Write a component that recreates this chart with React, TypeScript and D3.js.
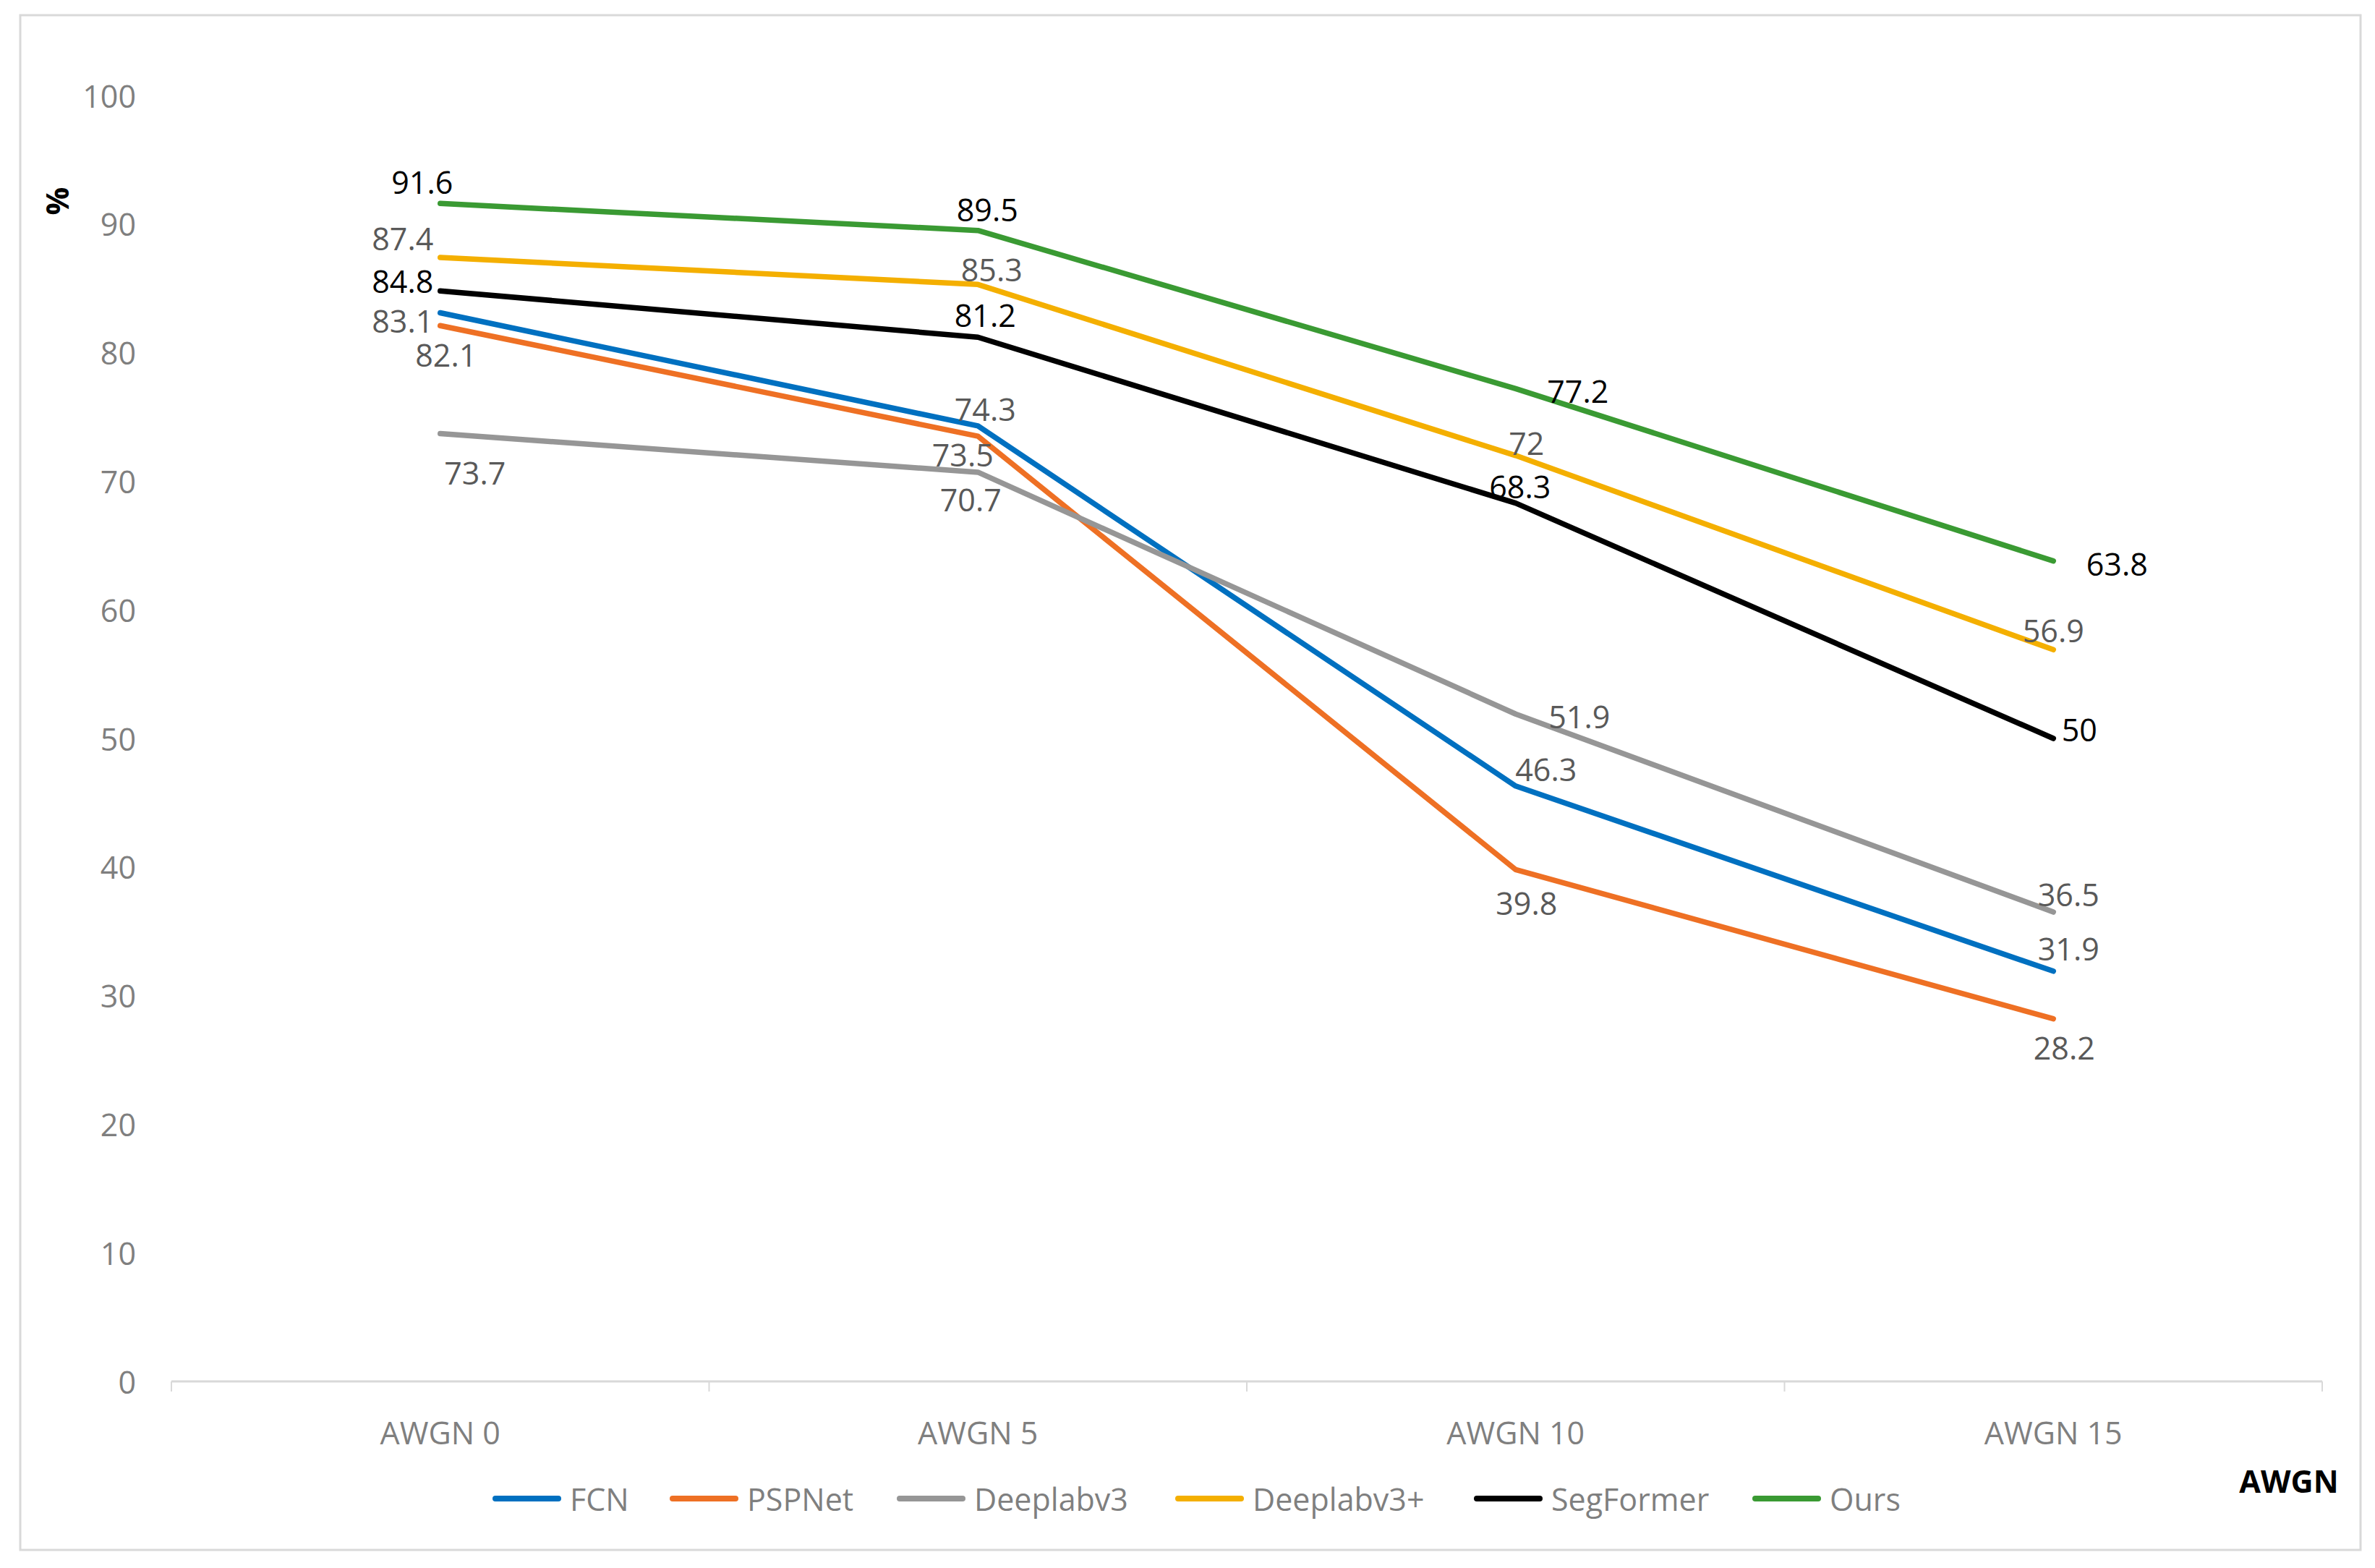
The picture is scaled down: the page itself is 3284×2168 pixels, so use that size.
import * as d3 from 'd3';

// values
const categories = ['AWGN 0', 'AWGN 5', 'AWGN 10', 'AWGN 15'];
const seriesNames = ['FCN', 'PSPNet', 'Deeplabv3', 'Deeplabv3+', 'SegFormer', 'Ours'];
const fcn = [83.1, 74.3, 46.3, 31.9];
const pspnet = [82.1, 73.5, 39.8, 28.2];
const deeplabv3 = [73.7, 70.7, 51.9, 36.5];
const deeplabv3plus = [87.4, 85.3, 72, 56.9];
const segformer = [84.8, 81.2, 68.3, 50];
const ours = [91.6, 89.5, 77.2, 63.8];
const yTicks = [0, 10, 20, 30, 40, 50, 60, 70, 80, 90, 100];

const seriesValues = [fcn, pspnet, deeplabv3, deeplabv3plus, segformer, ours];
const seriesColors = ['#0070c0', '#ee7024', '#969696', '#f4af00', '#000000', '#3a9a33'];
const labelColors = ['#595959', '#595959', '#595959', '#595959', '#000000', '#000000'];

// where each data label sits relative to its point (dx, dy)
const labelOffsets: [number, number][][] = [
  [[-52, 11], [10, -23], [42, -23], [21, -31]],
  [[8, 40], [-21, 25], [15, 46], [15, 40]],
  [[48, 54], [-10, 38], [88, 3], [21, -25]],
  [[-52, -27], [19, -21], [15, -17], [0, -27]],
  [[-52, -14], [10, -31], [6, -23], [36, -13]],
  [[-25, -30], [13, -29], [86, 3], [88, 4]],
];

// legend item left edges
const legendStarts = [681, 926, 1240, 1625, 2038, 2423];

const W = 3284;
const H = 2168;
const FONT = "'Open Sans', 'Noto Sans', sans-serif";
const FS = 43;

export default function App() {
  const plotLeft = 237;
  const plotRight = 3211;
  const plotTop = 132;
  const plotBottom = 1910;

  const x = d3.scaleBand<string>().domain(categories).range([plotLeft, plotRight]).padding(0);
  const cx = (c: string) => (x(c) ?? 0) + x.bandwidth() / 2;
  const y = d3.scaleLinear().domain([0, 100]).range([plotBottom, plotTop]);

  const line = d3.line<number>()
    .x((d, i) => cx(categories[i]))
    .y(d => y(d));

  const tickEdges = [...categories.map(c => x(c) ?? 0), plotRight];
  const legendY = 2072;

  return (
    <svg
      width={W}
      height={H}
      style={{ position: 'absolute', left: 0, top: 0, background: '#fff' }}
      fontFamily={FONT}
    >
      <rect x={0} y={0} width={W} height={H} fill="#fff" />
      <rect x={28} y={21} width={3236} height={2122} fill="none" stroke="#d9d9d9" strokeWidth={3} />

      {/* y tick labels */}
      {yTicks.map(t => (
        <text key={t} x={188} y={y(t)} textAnchor="end" dominantBaseline="central" fontSize={FS} fill="#7f7f7f">
          {t}
        </text>
      ))}
      <text
        transform={`translate(78,278) rotate(-90)`}
        textAnchor="middle"
        dominantBaseline="central"
        fontSize={FS}
        fontWeight="bold"
        fill="#000"
      >
        %
      </text>

      {/* x axis */}
      <line x1={plotLeft} x2={plotRight} y1={plotBottom} y2={plotBottom} stroke="#d9d9d9" strokeWidth={3} />
      {tickEdges.map((t, i) => (
        <line key={i} x1={t} x2={t} y1={plotBottom} y2={plotBottom + 14} stroke="#d9d9d9" strokeWidth={2} />
      ))}
      {categories.map(c => (
        <text key={c} x={cx(c)} y={1980} textAnchor="middle" dominantBaseline="central" fontSize={FS} fill="#7f7f7f">
          {c}
        </text>
      ))}
      <text x={3165} y={2047} textAnchor="middle" dominantBaseline="central" fontSize={FS} fontWeight="bold" fill="#000">
        AWGN
      </text>

      {/* series lines */}
      {seriesValues.map((vals, si) => (
        <path
          key={seriesNames[si]}
          d={line(vals) ?? ''}
          fill="none"
          stroke={seriesColors[si]}
          strokeWidth={7.5}
          strokeLinecap="round"
          strokeLinejoin="round"
        />
      ))}

      {/* data labels */}
      {seriesValues.map((vals, si) =>
        vals.map((v, i) => (
          <text
            key={`${si}-${i}`}
            x={cx(categories[i]) + labelOffsets[si][i][0]}
            y={y(v) + labelOffsets[si][i][1]}
            textAnchor="middle"
            dominantBaseline="central"
            fontSize={FS}
            fill={labelColors[si]}
          >
            {v}
          </text>
        ))
      )}

      {/* legend */}
      {seriesNames.map((name, si) => (
        <g key={name}>
          <line
            x1={legendStarts[si] + 4}
            x2={legendStarts[si] + 91}
            y1={legendY}
            y2={legendY}
            stroke={seriesColors[si]}
            strokeWidth={8}
            strokeLinecap="round"
          />
          <text x={legendStarts[si] + 107} y={legendY} dominantBaseline="central" fontSize={FS} fill="#7f7f7f">
            {name}
          </text>
        </g>
      ))}
    </svg>
  );
}
